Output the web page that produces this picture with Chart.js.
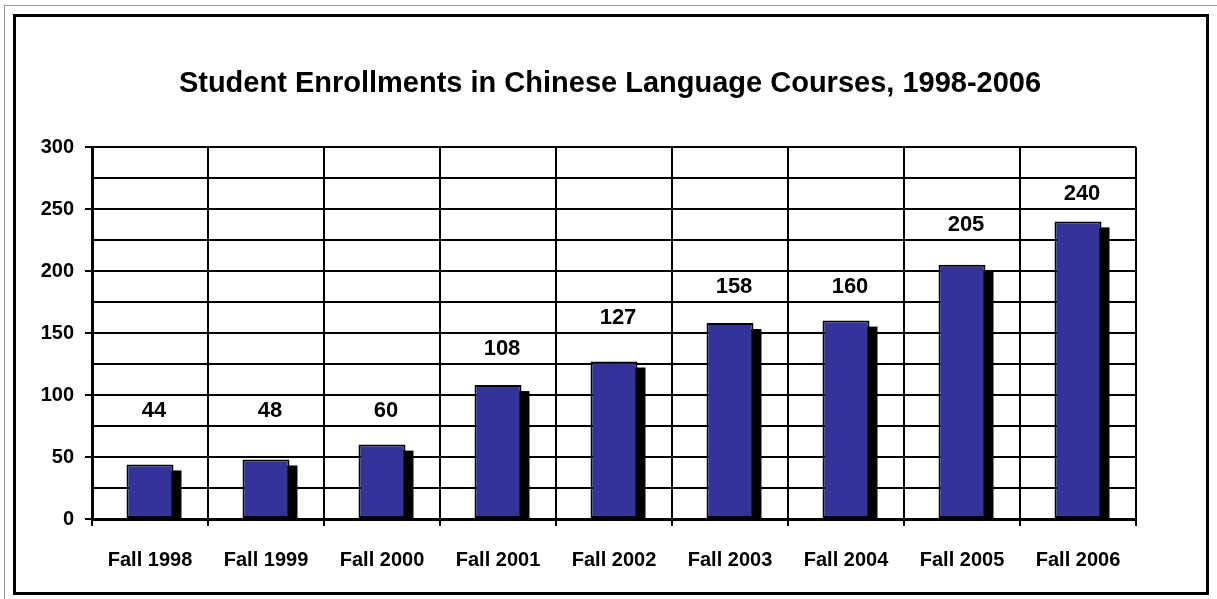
<!DOCTYPE html>
<html>
<head>
<meta charset="utf-8">
<script src="https://cdn.jsdelivr.net/npm/chart.js@4.4.1/dist/chart.umd.min.js"></script>
<style>
    html, body { margin: 0; padding: 0; background: #fff; overflow: hidden; }
    #outer {
        position: absolute; left: 4px; top: 5px; width: 1230px; height: 620px;
        border: 1px solid #999;
    }
    #frame {
        position: absolute; left: 13px; top: 14px; width: 1196px; height: 581px;
        box-sizing: border-box; border: 3px solid #000; background: #fff;
    }
    #chartBox { position: absolute; left: 0; top: 0; width: 1190px; height: 575px; }
</style>
</head>
<body>
<div id="outer"></div>
<div id="frame">
    <div id="chartBox"><canvas id="enrollChart"></canvas></div>
</div>
<script>
const chartTitle = 'Student Enrollments in Chinese Language Courses, 1998-2006';
const categories = ['Fall 1998', 'Fall 1999', 'Fall 2000', 'Fall 2001', 'Fall 2002',
                    'Fall 2003', 'Fall 2004', 'Fall 2005', 'Fall 2006'];
const enrollments = [44, 48, 60, 108, 127, 158, 160, 205, 240];
const yTicks = [0, 50, 100, 150, 200, 250, 300];

const FONT = "'Liberation Sans', Arial, sans-serif";

// Black drop shadow behind each bar
const barShadow = {
    id: 'barShadow',
    beforeDatasetsDraw(chart) {
        const ctx = chart.ctx;
        const meta = chart.getDatasetMeta(0);
        const area = chart.chartArea;
        ctx.save();
        ctx.beginPath();
        ctx.rect(area.left, area.top, area.right - area.left, area.bottom - area.top);
        ctx.clip();
        ctx.fillStyle = '#000';
        meta.data.forEach(bar => {
            const w = bar.width;
            ctx.fillRect(bar.x - w / 2 + 8, bar.y + 6, w, bar.base - bar.y - 6);
        });
        ctx.restore();
    }
};

// Value labels, sitting in the grid cell above each bar
const valueLabels = {
    id: 'valueLabels',
    afterDatasetsDraw(chart) {
        const ctx = chart.ctx;
        const meta = chart.getDatasetMeta(0);
        const y = chart.scales.y;
        ctx.save();
        ctx.font = 'bold 22px ' + FONT;
        ctx.fillStyle = '#000';
        ctx.textAlign = 'center';
        ctx.textBaseline = 'middle';
        meta.data.forEach((bar, i) => {
            const v = enrollments[i];
            const at = Math.max(87.5, (Math.floor(v / 25) + 1.5) * 25);
            ctx.fillText(String(v), bar.x + 4, y.getPixelForValue(at));
        });
        ctx.restore();
    }
};

// Title centred on the whole frame, not just the plot
const frameTitle = {
    id: 'frameTitle',
    afterDraw(chart) {
        const ctx = chart.ctx;
        ctx.save();
        ctx.font = 'bold 29px ' + FONT;
        ctx.fillStyle = '#000';
        ctx.textAlign = 'center';
        ctx.textBaseline = 'middle';
        ctx.fillText(chartTitle, 594, 67);
        ctx.restore();
    }
};

new Chart(document.getElementById('enrollChart'), {
    type: 'bar',
    data: {
        labels: categories,
        datasets: [{
            data: enrollments,
            backgroundColor: '#333399',
            borderColor: '#000',
            borderWidth: 2,
            borderSkipped: false,
            barPercentage: 0.405,
            categoryPercentage: 1
        }]
    },
    plugins: [barShadow, valueLabels, frameTitle],
    options: {
        responsive: true,
        maintainAspectRatio: false,
        animation: false,
        layout: { padding: { left: 0, right: 70, top: 130, bottom: 0 } },
        plugins: {
            legend: { display: false },
            tooltip: { enabled: false },
            title: { display: false }
        },
        scales: {
            x: {
                offset: true,
                grid: { offset: true, color: '#000', lineWidth: 2, tickLength: 7, tickColor: '#000' },
                border: { color: '#000', width: 3 },
                ticks: {
                    color: '#000',
                    padding: 22,
                    font: { family: FONT, size: 20, weight: 'bold' }
                },
                afterFit(scale) { scale.height = 73; }
            },
            y: {
                min: 0,
                max: 300,
                ticks: {
                    stepSize: 25,
                    autoSkip: false,
                    color: '#000',
                    padding: 11,
                    font: { family: FONT, size: 20, weight: 'bold' },
                    callback: v => yTicks.includes(v) ? v : ''
                },
                grid: {
                    color: '#000',
                    lineWidth: 2,
                    tickLength: 7,
                    tickColor: c => yTicks.includes(c.tick.value) ? '#000' : 'rgba(0,0,0,0)'
                },
                border: { color: '#000', width: 3 },
                afterFit(scale) { scale.width = 76; }
            }
        }
    }
});
</script>
</body>
</html>
